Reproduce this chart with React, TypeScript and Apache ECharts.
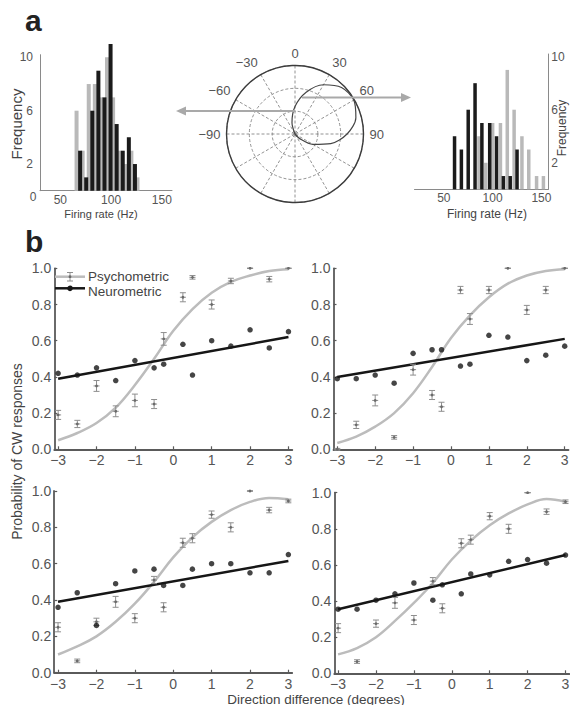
import React, { useEffect, useRef } from 'react';
import * as echarts from 'echarts';

const FONT = "'Liberation Sans', Arial, Helvetica, sans-serif";

// ---------- Panel a: histograms ----------
const L_GRAY_X = [66, 72, 78, 84, 90, 96, 102, 108, 114, 120, 126];
const L_GRAY_Y = [6, 3, 8, 8, 7, 10, 7, 3, 2, 3, 1];
const L_BLACK_X = [69.5, 75.5, 81.5, 87.5, 93.5, 99.5, 105.5, 111.5, 117.5, 123.5];
const L_BLACK_Y = [3, 1, 6, 9, 7, 11, 5, 3, 4, 2];

const R_BLACK_X = [61, 68, 75, 82, 89, 97, 104, 111, 118, 125];
const R_BLACK_Y = [4, 3, 6, 8, 5, 5, 4, 1, 1, 3];
const R_GRAY_X = [86, 93, 100, 108, 115, 122, 130, 137, 145, 152];
const R_GRAY_Y = [4, 2, 5, 5, 9, 6, 4, 3, 1, 1];

const HIST_X_TICKS = [50, 100, 150];
const L_HIST_Y_TICKS = [2, 6, 10];
const R_HIST_Y_TICKS = [2, 6, 10];

// ---------- Panel a: polar tuning curve [radius (outer ring = 1), angle deg clockwise from top] ----------
const TUNING: number[][] = [
  [0, 327], [0.17, 345], [0.4, 0], [0.63, 15], [0.83, 30], [0.96, 45], [0.99, 60],
  [0.92, 75], [0.76, 90], [0.54, 105], [0.3, 120], [0.09, 135], [0, 147],
];

// ---------- Panel b ----------
const DIR = [-3, -2.5, -2, -1.5, -1, -0.5, -0.25, 0.25, 0.5, 1, 1.5, 2, 2.5, 3];
const FIT_X = [-3, -2.5, -2, -1.5, -1, -0.5, 0, 0.5, 1, 1.5, 2, 2.5, 3];
const X_TICKS = [-3, -2, -1, 0, 1, 2, 3];
const NEU_FIT_X = [-3, 3];

const TL_PSY = [0.19, 0.14, 0.35, 0.21, 0.27, 0.25, 0.61, 0.84, 0.95, 0.8, 0.93, 1.0, 0.94, 1.0];
const TL_ERR = [0.025, 0.02, 0.03, 0.03, 0.035, 0.025, 0.035, 0.025, 0.01, 0.025, 0.015, 0, 0.015, 0];
const TL_NEU = [0.42, 0.41, 0.45, 0.38, 0.49, 0.45, 0.47, 0.58, 0.41, 0.6, 0.57, 0.66, 0.56, 0.65];
const TL_PSY_FIT = [0.05, 0.09, 0.145, 0.23, 0.355, 0.5, 0.655, 0.775, 0.865, 0.925, 0.96, 0.985, 0.995];
const TL_NEU_FIT = [0.39, 0.62];

const TR_PSY = [0.0, 0.135, 0.27, 0.066, 0.44, 0.3, 0.235, 0.88, 0.72, 0.88, 1.0, 0.77, 0.88, 1.0];
const TR_ERR = [0.005, 0.02, 0.03, 0.01, 0.03, 0.025, 0.025, 0.02, 0.03, 0.02, 0, 0.025, 0.02, 0];
const TR_NEU = [0.39, 0.39, 0.41, 0.365, 0.53, 0.55, 0.55, 0.46, 0.47, 0.63, 0.62, 0.49, 0.52, 0.57];
const TR_PSY_FIT = [0.035, 0.07, 0.125, 0.2, 0.31, 0.455, 0.615, 0.74, 0.84, 0.915, 0.96, 0.985, 0.995];
const TR_NEU_FIT = [0.4, 0.61];

const BL_PSY = [0.25, 0.065, 0.28, 0.39, 0.3, 0.51, 0.36, 0.715, 0.74, 0.87, 0.8, 1.0, 0.895, 0.945];
const BL_ERR = [0.025, 0.01, 0.02, 0.03, 0.025, 0.02, 0.025, 0.025, 0.025, 0.02, 0.025, 0, 0.015, 0.01];
const BL_NEU = [0.36, 0.44, 0.26, 0.49, 0.56, 0.57, 0.48, 0.48, 0.57, 0.6, 0.6, 0.55, 0.55, 0.65];
const BL_PSY_FIT = [0.1, 0.145, 0.2, 0.28, 0.38, 0.5, 0.635, 0.745, 0.83, 0.895, 0.94, 0.962, 0.955];
const BL_NEU_FIT = [0.39, 0.615];

const BR_PSY = [0.25, 0.065, 0.275, 0.39, 0.295, 0.51, 0.36, 0.72, 0.74, 0.87, 0.8, 1.0, 0.895, 0.95];
const BR_ERR = [0.025, 0.01, 0.02, 0.03, 0.025, 0.02, 0.025, 0.025, 0.025, 0.02, 0.025, 0, 0.015, 0.01];
const BR_NEU = [0.355, 0.355, 0.405, 0.44, 0.5, 0.405, 0.49, 0.44, 0.55, 0.545, 0.62, 0.63, 0.61, 0.655];
const BR_PSY_FIT = [0.105, 0.14, 0.2, 0.29, 0.39, 0.5, 0.63, 0.735, 0.82, 0.885, 0.935, 0.965, 0.95];
const BR_NEU_FIT = [0.355, 0.655];

const PANELS = [
  { psy: TL_PSY, err: TL_ERR, neu: TL_NEU, psyFit: TL_PSY_FIT, neuFit: TL_NEU_FIT },
  { psy: TR_PSY, err: TR_ERR, neu: TR_NEU, psyFit: TR_PSY_FIT, neuFit: TR_NEU_FIT },
  { psy: BL_PSY, err: BL_ERR, neu: BL_NEU, psyFit: BL_PSY_FIT, neuFit: BL_NEU_FIT },
  { psy: BR_PSY, err: BR_ERR, neu: BR_NEU, psyFit: BR_PSY_FIT, neuFit: BR_NEU_FIT },
];

const GRAY_BAR = '#b9b9b9';
const BLACK_BAR = '#1b1b1b';
const PSY_LINE = '#bcbcbc';
const PSY_ERR = '#8e8e8e';
const NEU = '#161616';
const AXIS_B = '#5a5a5a';
const LABEL = '#555555';

const minus = (v: number) => (v < 0 ? '\u2212' + Math.abs(v) : String(v));

function errRender(params: any, api: any) {
  const x = api.value(0);
  const y = api.value(1);
  const e = api.value(2);
  const c = api.coord([x, y]);
  const lo = api.coord([x, y - e]);
  const hi = api.coord([x, y + e]);
  const w = 3;
  const st = { stroke: PSY_ERR, lineWidth: 1 };
  return {
    type: 'group',
    children: [
      { type: 'line', shape: { x1: c[0], y1: hi[1], x2: c[0], y2: lo[1] }, style: st },
      { type: 'line', shape: { x1: c[0] - w, y1: hi[1], x2: c[0] + w, y2: hi[1] }, style: st },
      { type: 'line', shape: { x1: c[0] - w, y1: lo[1], x2: c[0] + w, y2: lo[1] }, style: st },
      { type: 'line', shape: { x1: c[0] - w, y1: c[1], x2: c[0] + w, y2: c[1] }, style: st },
      { type: 'circle', shape: { cx: c[0], cy: c[1], r: 1.4 }, style: { fill: '#6a6a6a' } },
    ],
  };
}

function buildOption() {
  const grids: any[] = [
    { left: 40, top: 54.7, width: 132, height: 136 },
    { left: 414.5, top: 54, width: 133.8, height: 135.3 },
    { left: 54.3, top: 268.3, width: 238, height: 181 },
    { left: 333.5, top: 268.3, width: 235, height: 181 },
    { left: 54.2, top: 491, width: 238, height: 181.7 },
    { left: 334.3, top: 492.7, width: 235, height: 180.6 },
  ].map((g) => ({ ...g, containLabel: false, outerBoundsMode: 'none' }));

  const histLabel = { color: LABEL, fontSize: 12, fontFamily: FONT };
  const histAxisLine = { show: true, onZero: false, lineStyle: { color: '#8a8a8a', width: 1 } };

  const xAxis: any[] = [
    {
      gridIndex: 0, type: 'value', min: 30, max: 160,
      axisLine: histAxisLine, axisTick: { show: false }, splitLine: { show: false },
      axisLabel: { ...histLabel, customValues: HIST_X_TICKS, margin: 3 },
    },
    {
      gridIndex: 1, type: 'value', min: 20, max: 157,
      axisLine: histAxisLine, axisTick: { show: false }, splitLine: { show: false },
      axisLabel: { ...histLabel, customValues: HIST_X_TICKS, margin: 3 },
    },
  ];
  const yAxis: any[] = [
    {
      gridIndex: 0, type: 'value', min: 0, max: 10.2,
      axisLine: histAxisLine, axisTick: { show: false }, splitLine: { show: false },
      axisLabel: { ...histLabel, customValues: L_HIST_Y_TICKS, margin: 7 },
    },
    {
      gridIndex: 1, type: 'value', min: 0, max: 10.2, position: 'right',
      axisLine: histAxisLine, axisTick: { show: false }, splitLine: { show: false },
      axisLabel: { ...histLabel, customValues: R_HIST_Y_TICKS, margin: 3 },
    },
  ];

  const bLabel = { color: LABEL, fontSize: 14, fontFamily: FONT };
  const bLine = { show: true, onZero: false, lineStyle: { color: AXIS_B, width: 1.8 } };
  for (let p = 0; p < 4; p++) {
    const gi = p + 2;
    xAxis.push({
      gridIndex: gi, type: 'value', min: -3.1, max: 3.1,
      axisLine: bLine,
      axisTick: { show: true, inside: true, length: 3, customValues: X_TICKS, lineStyle: { color: AXIS_B, width: 1.2 } },
      axisLabel: { ...bLabel, customValues: X_TICKS, formatter: (v: number) => minus(v), margin: 4 },
      splitLine: { show: false },
    });
    yAxis.push({
      gridIndex: gi, type: 'value', min: 0, max: 1, interval: 0.2,
      axisLine: bLine,
      axisTick: { show: true, inside: true, length: 3, lineStyle: { color: AXIS_B, width: 1.2 } },
      axisLabel: { ...bLabel, formatter: (v: number) => v.toFixed(1), margin: 3 },
      splitLine: { show: false },
    });
  }

  const series: any[] = [
    {
      type: 'bar', xAxisIndex: 0, yAxisIndex: 0, barWidth: 4, barGap: '-100%', clip: false,
      itemStyle: { color: GRAY_BAR }, data: L_GRAY_X.map((x, i) => [x, L_GRAY_Y[i]]), z: 2,
    },
    {
      type: 'bar', xAxisIndex: 0, yAxisIndex: 0, barWidth: 4, barGap: '-100%', clip: false,
      itemStyle: { color: BLACK_BAR }, data: L_BLACK_X.map((x, i) => [x, L_BLACK_Y[i]]), z: 3,
    },
    {
      type: 'bar', xAxisIndex: 1, yAxisIndex: 1, barWidth: 3.5, barGap: '-100%', clip: false,
      itemStyle: { color: GRAY_BAR }, data: R_GRAY_X.map((x, i) => [x, R_GRAY_Y[i]]), z: 2,
    },
    {
      type: 'bar', xAxisIndex: 1, yAxisIndex: 1, barWidth: 3.5, barGap: '-100%', clip: false,
      itemStyle: { color: BLACK_BAR }, data: R_BLACK_X.map((x, i) => [x, R_BLACK_Y[i]]), z: 3,
    },
    {
      type: 'line', coordinateSystem: 'polar', polarIndex: 0, data: TUNING,
      smooth: 0.3, symbol: 'none', lineStyle: { color: '#454545', width: 1.2 }, z: 5,
    },
  ];

  PANELS.forEach((pd, p) => {
    const ai = p + 2;
    series.push({
      type: 'line', xAxisIndex: ai, yAxisIndex: ai, smooth: 0.4, symbol: 'none',
      lineStyle: { color: PSY_LINE, width: 2.5 }, data: FIT_X.map((x, i) => [x, pd.psyFit[i]]), z: 2,
    });
    series.push({
      type: 'line', xAxisIndex: ai, yAxisIndex: ai, symbol: 'none',
      lineStyle: { color: NEU, width: 2.5 }, data: NEU_FIT_X.map((x, i) => [x, pd.neuFit[i]]), z: 3,
    });
    series.push({
      type: 'custom', xAxisIndex: ai, yAxisIndex: ai, renderItem: errRender,
      encode: { x: 0, y: 1 }, data: DIR.map((x, i) => [x, pd.psy[i], pd.err[i]]), z: 4,
    });
    series.push({
      type: 'scatter', xAxisIndex: ai, yAxisIndex: ai, symbolSize: 5.5,
      itemStyle: { color: NEU }, data: DIR.map((x, i) => [x, pd.neu[i]]), z: 5,
    });
  });

  const txt = (text: string, x: number, y: number, size: number, opts: any = {}) => ({
    type: 'text', x, y, rotation: opts.rotation || 0, z: 100,
    style: {
      text, fill: opts.fill || '#444', fontSize: size, fontFamily: FONT,
      fontWeight: opts.bold ? 'bold' : 'normal',
      align: opts.align || 'center', verticalAlign: 'middle',
    },
  });

  const arrowStyle = { stroke: '#a9a9a9', lineWidth: 2.2 };
  const errSt = { stroke: PSY_ERR, lineWidth: 1 };

  const graphic: any[] = [
    txt('a', 25, 20.3, 30, { bold: true, align: 'left', fill: '#222' }),
    txt('b', 25, 241.6, 30, { bold: true, align: 'left', fill: '#222' }),
    txt('Frequency', 16, 124, 15, { rotation: Math.PI / 2 }),
    txt('Frequency', 562, 128, 12, { rotation: Math.PI / 2 }),
    txt('0', 33, 197, 12, { fill: LABEL }),
    txt('Firing rate (Hz)', 101, 213.5, 11),
    txt('Firing rate (Hz)', 487, 213.5, 12),
    txt('Probability of CW responses', 17, 451.5, 14, { rotation: Math.PI / 2 }),
    txt('Direction difference (degrees)', 316, 699, 13.5),
    // arrows
    { type: 'line', z: 90, shape: { x1: 295, y1: 111, x2: 184, y2: 111 }, style: arrowStyle },
    { type: 'polygon', z: 90, shape: { points: [[176, 111], [186, 106.5], [186, 115.5]] }, style: { fill: '#a9a9a9' } },
    { type: 'line', z: 90, shape: { x1: 302, y1: 97.5, x2: 403, y2: 97.5 }, style: arrowStyle },
    { type: 'polygon', z: 90, shape: { points: [[411, 97.5], [401, 93], [401, 102]] }, style: { fill: '#a9a9a9' } },
    // legend
    { type: 'line', z: 100, shape: { x1: 55, y1: 276.7, x2: 85, y2: 276.7 }, style: { stroke: PSY_LINE, lineWidth: 2.5 } },
    { type: 'line', z: 101, shape: { x1: 70, y1: 272.5, x2: 70, y2: 281 }, style: errSt },
    { type: 'line', z: 101, shape: { x1: 67, y1: 272.5, x2: 73, y2: 272.5 }, style: errSt },
    { type: 'line', z: 101, shape: { x1: 67, y1: 281, x2: 73, y2: 281 }, style: errSt },
    { type: 'circle', z: 101, shape: { cx: 70, cy: 276.7, r: 1.4 }, style: { fill: '#6a6a6a' } },
    { type: 'line', z: 100, shape: { x1: 55, y1: 288.3, x2: 85, y2: 288.3 }, style: { stroke: NEU, lineWidth: 2.5 } },
    { type: 'circle', z: 101, shape: { cx: 70, cy: 288.3, r: 2.8 }, style: { fill: NEU } },
    txt('Psychometric', 88, 276.5, 13.5, { align: 'left' }),
    txt('Neurometric', 88, 291, 13.5, { align: 'left' }),
  ];

  return {
    animation: false,
    backgroundColor: '#ffffff',
    textStyle: { fontFamily: FONT },
    grid: grids,
    xAxis,
    yAxis,
    polar: [{ center: [295, 134], radius: 68.5 }],
    angleAxis: [{
      polarIndex: 0, type: 'value', min: 0, max: 360, interval: 30, startAngle: 90, clockwise: true,
      axisLine: { show: true, lineStyle: { color: '#3c3c3c', width: 1.4 } },
      axisTick: { show: false },
      axisLabel: {
        color: LABEL, fontSize: 13, fontFamily: FONT, margin: 6,
        formatter: (v: number) => (v <= 90 ? String(v) : v >= 270 && v < 360 ? '\u2212' + (360 - v) : ''),
      },
      splitLine: { show: true, lineStyle: { color: '#777', type: [3, 2], width: 0.8 } },
    }],
    radiusAxis: [{
      polarIndex: 0, type: 'value', min: 0, max: 1, interval: 1 / 3,
      axisLine: { show: false }, axisTick: { show: false }, axisLabel: { show: false },
      splitLine: { show: true, lineStyle: { color: '#777', type: [3, 2], width: 0.8 } },
    }],
    series,
    graphic,
  };
}

export default function App() {
  const ref = useRef<HTMLDivElement>(null);
  useEffect(() => {
    if (!ref.current) return;
    const chart = echarts.init(ref.current, undefined, { renderer: 'svg' });
    chart.setOption(buildOption() as any);
    return () => chart.dispose();
  }, []);
  return (
    <div
      ref={ref}
      style={{ position: 'fixed', left: 0, top: 0, width: 570, height: 705, background: '#fff' }}
    />
  );
}
